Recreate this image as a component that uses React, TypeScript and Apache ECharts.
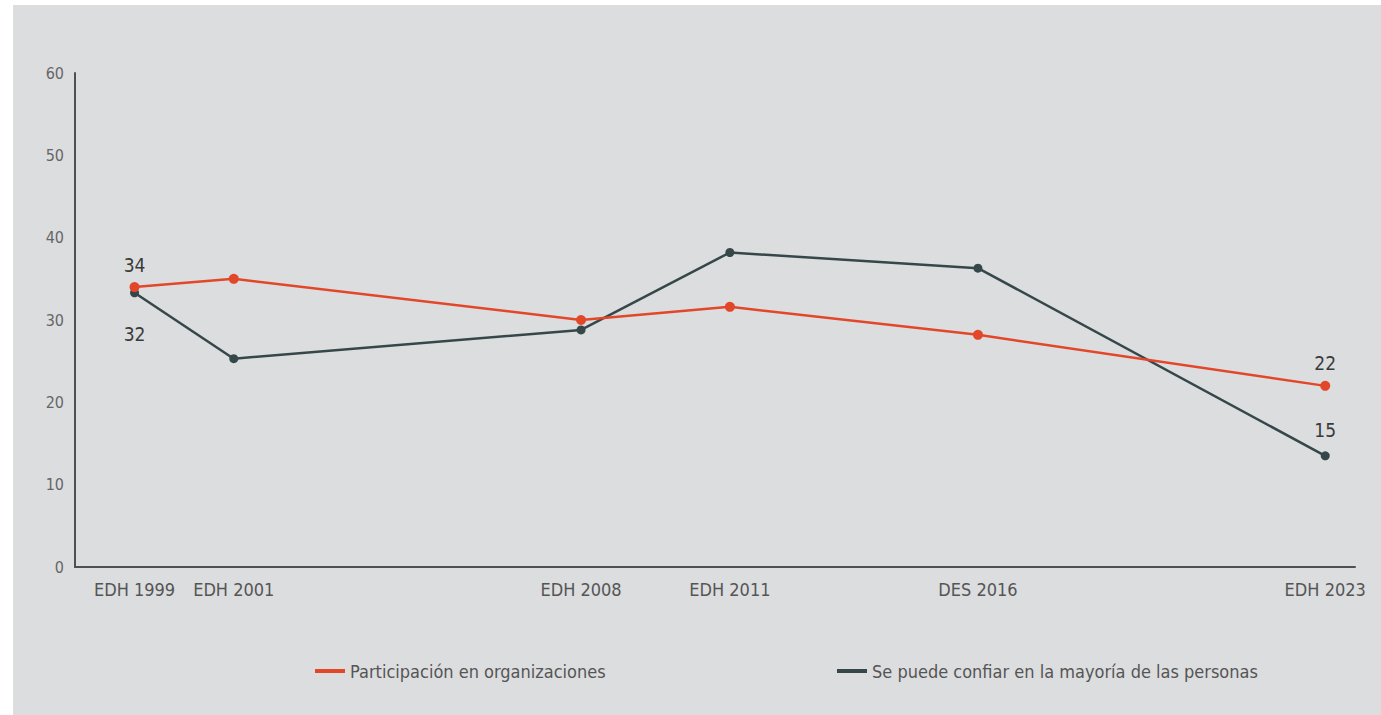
import React, { useEffect, useRef } from "react";
import * as echarts from "echarts";

const years = [1999, 2001, 2008, 2011, 2016, 2023];
const yearLabels = ["EDH 1999", "EDH 2001", "EDH 2008", "EDH 2011", "DES 2016", "EDH 2023"];
const participacion = [34, 35, 30, 31.6, 28.2, 22];
const confianza = [33.3, 25.3, 28.8, 38.2, 36.3, 13.5];
const participacionLabels = ["34", "", "", "", "", "22"];
const confianzaLabels = ["32", "", "", "", "", "15"];
const seriesNames = ["Participación en organizaciones", "Se puede confiar en la mayoría de las personas"];

const FONT = "'Liberation Sans Narrow', 'DejaVu Sans Condensed', 'Roboto', sans-serif";
const ORANGE = "#e2472a";
const DARK = "#36474a";

export default function App() {
  const ref = useRef<HTMLDivElement>(null);
  useEffect(() => {
    if (!ref.current) return;
    const chart = echarts.init(ref.current, null, { renderer: "svg" });
    const mk = (vals: number[], labels: string[], pos: string[], dist: number[]) =>
      vals.map((v, i) => ({
        value: [years[i], v],
        label: {
          show: labels[i] !== "",
          formatter: labels[i],
          position: pos[i] as any,
          distance: dist[i],
        },
      }));
    chart.setOption({
      animation: false,
      textStyle: { fontFamily: FONT },
      grid: { left: 75, right: 26, top: 73, bottom: 148, containLabel: false },
      xAxis: {
        type: "value",
        min: 1997.8,
        max: 2023.6,
        splitLine: { show: false },
        axisLine: { show: true, lineStyle: { color: "#505050", width: 2 } },
        axisTick: { show: false },
        axisLabel: {
          customValues: years,
          margin: 13,
          color: "#555",
          fontSize: 18,
          fontFamily: FONT,
          formatter: (v: number) => {
            const i = years.indexOf(Math.round(v));
            return i >= 0 ? yearLabels[i] : "";
          },
        },
      },
      yAxis: {
        type: "value",
        min: 0,
        max: 60,
        interval: 10,
        splitLine: { show: false },
        axisLine: { show: true, lineStyle: { color: "#505050", width: 2 } },
        axisTick: { show: false },
        axisLabel: { color: "#666", fontSize: 16, margin: 11, fontFamily: FONT },
      },
      legend: [
        {
          data: [seriesNames[0]],
          left: 310,
          top: 657,
          icon: "rect",
          itemWidth: 30,
          itemHeight: 4,
          itemGap: 10,
          textStyle: { color: "#555", fontSize: 18, fontFamily: FONT },
        },
        {
          data: [seriesNames[1]],
          left: 832,
          top: 657,
          icon: "rect",
          itemWidth: 30,
          itemHeight: 4,
          textStyle: { color: "#555", fontSize: 18, fontFamily: FONT },
        },
      ],
      series: [
        {
          name: seriesNames[1],
          type: "line",
          data: mk(confianza, confianzaLabels, ["bottom", "", "", "", "", "top"], [27, 0, 0, 0, 0, 12]),
          symbol: "circle",
          symbolSize: 9,
          lineStyle: { color: DARK, width: 2.5 },
          itemStyle: { color: DARK },
          label: { color: "#3a3a3a", fontSize: 19, fontFamily: FONT },
          z: 2,
        },
        {
          name: seriesNames[0],
          type: "line",
          data: mk(participacion, participacionLabels, ["top", "", "", "", "", "top"], [8, 0, 0, 0, 0, 8]),
          symbol: "circle",
          symbolSize: 10,
          lineStyle: { color: ORANGE, width: 2.5 },
          itemStyle: { color: ORANGE },
          label: { color: "#3a3a3a", fontSize: 19, fontFamily: FONT },
          z: 3,
        },
      ],
    });
    return () => chart.dispose();
  }, []);
  return (
    <div style={{ position: "absolute", left: 0, top: 0, width: 1381, height: 715, background: "#fff" }}>
      <div style={{ position: "absolute", left: 13, top: 5, width: 1368, height: 710, background: "#dcdddf" }} />
      <div ref={ref} style={{ position: "absolute", left: 0, top: 0, width: 1381, height: 715 }} />
    </div>
  );
}
